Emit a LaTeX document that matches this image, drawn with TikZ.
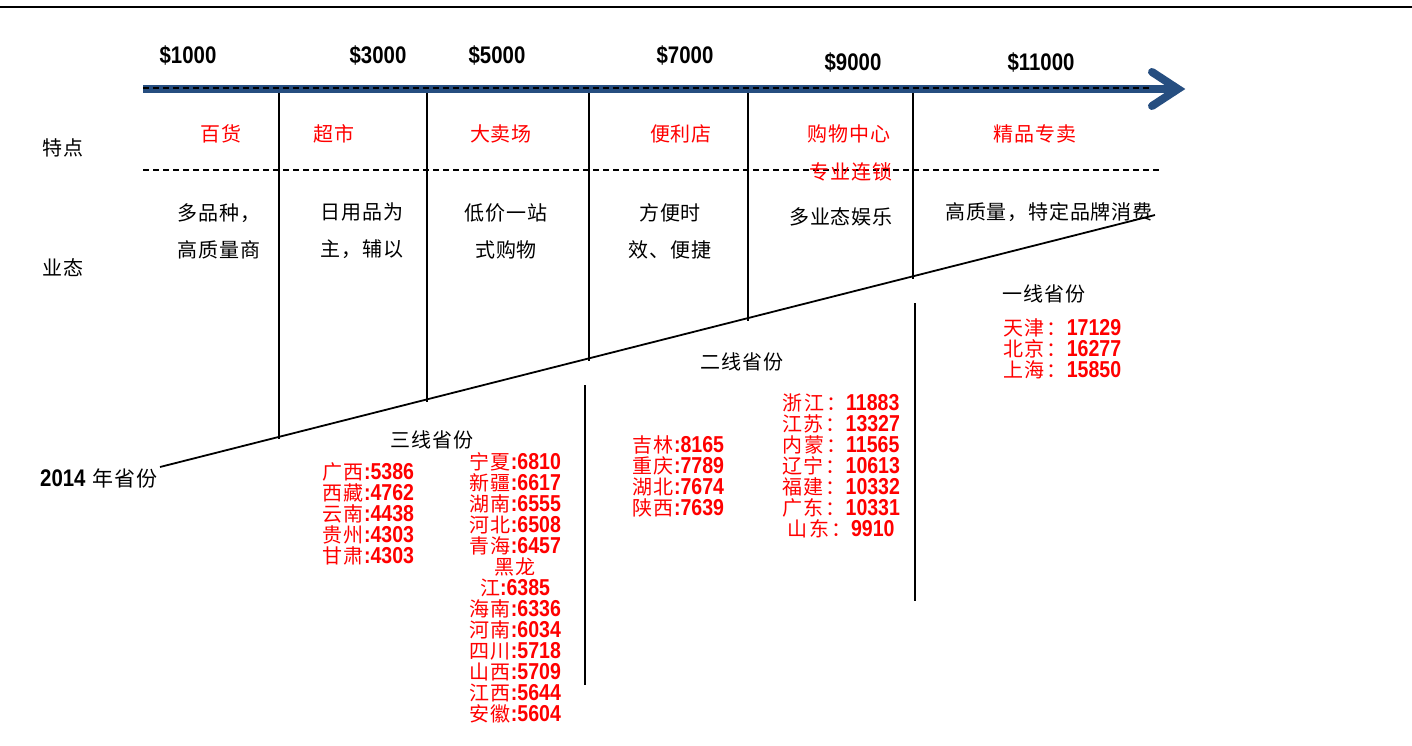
\documentclass[tikz,border=0pt]{standalone}
\usepackage{fontspec}
\newfontfamily\cjk{Noto Sans CJK SC}[LetterSpace=4]
\newfontfamily\cjkw{Noto Sans CJK SC}[LetterSpace=9]
\newfontfamily\numf{Liberation Sans}[FakeStretch=0.85]
\definecolor{arrowblue}{RGB}{38,78,128}
\definecolor{redtxt}{RGB}{255,0,0}
\newcommand\pv[2]{{\cjkw\fontsize{20}{21}\selectfont #1}{\numf\bfseries\fontsize{23}{21}\selectfont #2}}
\tikzset{
  ink/.style={line width=1.4pt, black},
  dashline/.style={line width=1.3pt, black, dash pattern=on 6pt off 4pt},
  body/.style={font=\cjk\fontsize{20}{37}\selectfont, inner sep=0pt, align=center},
  head/.style={font=\cjk\fontsize{20}{22}\selectfont, text=redtxt, inner sep=0pt},
  price/.style={font=\numf\bfseries\fontsize{24}{24}\selectfont, inner sep=0pt},
  tier/.style={font=\cjk\fontsize{20}{22}\selectfont, inner sep=0pt},
  plist/.style={font=\fontsize{20}{21}\selectfont, text=redtxt, inner sep=0pt},
}
\begin{document}
\begin{tikzpicture}[x=1pt,y=-1pt]
\useasboundingbox (0,0) rectangle (1412,746);
% top rule
\coordinate (tl) at (0,7); \coordinate (tr) at (1412,7);
\draw[line width=2.5pt] (tl) -- (tr);
% price axis
\coordinate (a0) at (143,89); \coordinate (a1) at (1174,89);
\coordinate (c0) at (1152,72); \coordinate (c1) at (1178,89); \coordinate (c2) at (1152,106);
\draw[arrowblue, line width=8pt] (a0) -- (a1);
\draw[arrowblue, line width=8pt, line cap=round, line join=miter] (c0) -- (c1) -- (c2);
\coordinate (d0) at (143,88); \coordinate (d1) at (1150,88);
\draw[dashline] (d0) -- (d1);
% price labels
\node[price] (p1) at (188,55) {\$1000};
\node[price] (p3) at (378,55) {\$3000};
\node[price] (p5) at (497,55) {\$5000};
\node[price] (p7) at (685,55) {\$7000};
\node[price] (p9) at (853,62) {\$9000};
\node[price] (p11) at (1041,62) {\$11000};
% dashed separator
\coordinate (h0) at (143,170); \coordinate (h1) at (1160,170);
\draw[dashline] (h0) -- (h1);
% diagonal
\coordinate (g0) at (160,467); \coordinate (g1) at (1155,215);
\draw[line width=1.8pt] (g0) -- (g1);
% vertical separators
\foreach \n/\x/\yb in {v1/279/439, v2/427/402, v3/589/361, v4/748/321, v5/913/279}{
  \coordinate (\n t) at (\x,93); \coordinate (\n b) at (\x,\yb);
  \draw[ink] (\n t) -- (\n b);
}
\coordinate (w1t) at (585,385); \coordinate (w1b) at (585,685);
\coordinate (w2t) at (915,303); \coordinate (w2b) at (915,601);
\draw[ink] (w1t) -- (w1b);
\draw[ink] (w2t) -- (w2b);
% left labels
\node[tier] (tedian) at (63,148) {特点};
\node[tier] (yetai) at (63,268) {业态};
\node[inner sep=0pt, anchor=west] (year) at (40,478) {{\numf\bfseries\fontsize{24}{24}\selectfont 2014}\hspace{7pt}{\cjk\fontsize{21}{22}\selectfont 年省份}};
% red headers
\node[head] (h1n) at (221,134) {百货};
\node[head] (h2n) at (334,134) {超市};
\node[head] (h3n) at (501,134) {大卖场};
\node[head] (h4n) at (681,134) {便利店};
\node[head] (h5n) at (849,134) {购物中心};
\node[head] (h5m) at (851,172) {专业连锁};
\node[head] (h6n) at (1035,134) {精品专卖};
% body text
\node[body] (b1) at (219,231) {多品种，\\高质量商};
\node[body] (b2) at (362,231) {日用品为\\主，辅以};
\node[body] (b3) at (506,231) {低价一站\\式购物};
\node[body] (b4) at (670,231) {方便时\\效、便捷};
\node[body] (b5) at (841,217) {多业态娱乐};
\node[body] (b6) at (1049,212) {高质量，特定品牌消费};
% tier headings
\node[tier] (t3) at (432,440) {三线省份};
\node[tier] (t2) at (742,362) {二线省份};
\node[tier] (t1) at (1044,294) {一线省份};
% tier 1 list
\node[plist, anchor=north west, align=left] (l1) at (1003,318) {%
\pv{天津：}{17129}\\\pv{北京：}{16277}\\\pv{上海：}{15850}};
% tier 2 lists
\node[plist, anchor=north west, align=left] (l2a) at (632,435) {%
\pv{吉林}{:8165}\\\pv{重庆}{:7789}\\\pv{湖北}{:7674}\\\pv{陕西}{:7639}};
\node[plist, anchor=north, align=center] (l2b) at (841,394) {%
\pv{浙江：}{11883}\\\pv{江苏：}{13327}\\\pv{内蒙：}{11565}\\\pv{辽宁：}{10613}\\\pv{福建：}{10332}\\\pv{广东：}{10331}\\\pv{山东：}{9910}};
% tier 3 lists
\node[plist, anchor=north west, align=left] (l3a) at (322,462) {%
\pv{广西}{:5386}\\\pv{西藏}{:4762}\\\pv{云南}{:4438}\\\pv{贵州}{:4303}\\\pv{甘肃}{:4303}};
\node[plist, anchor=north, align=center] (l3b) at (515,452) {%
\pv{宁夏}{:6810}\\\pv{新疆}{:6617}\\\pv{湖南}{:6555}\\\pv{河北}{:6508}\\\pv{青海}{:6457}\\\pv{黑龙}{}\\\pv{江}{:6385}\\\pv{海南}{:6336}\\\pv{河南}{:6034}\\\pv{四川}{:5718}\\\pv{山西}{:5709}\\\pv{江西}{:5644}\\\pv{安徽}{:5604}};
\end{tikzpicture}
\end{document}
